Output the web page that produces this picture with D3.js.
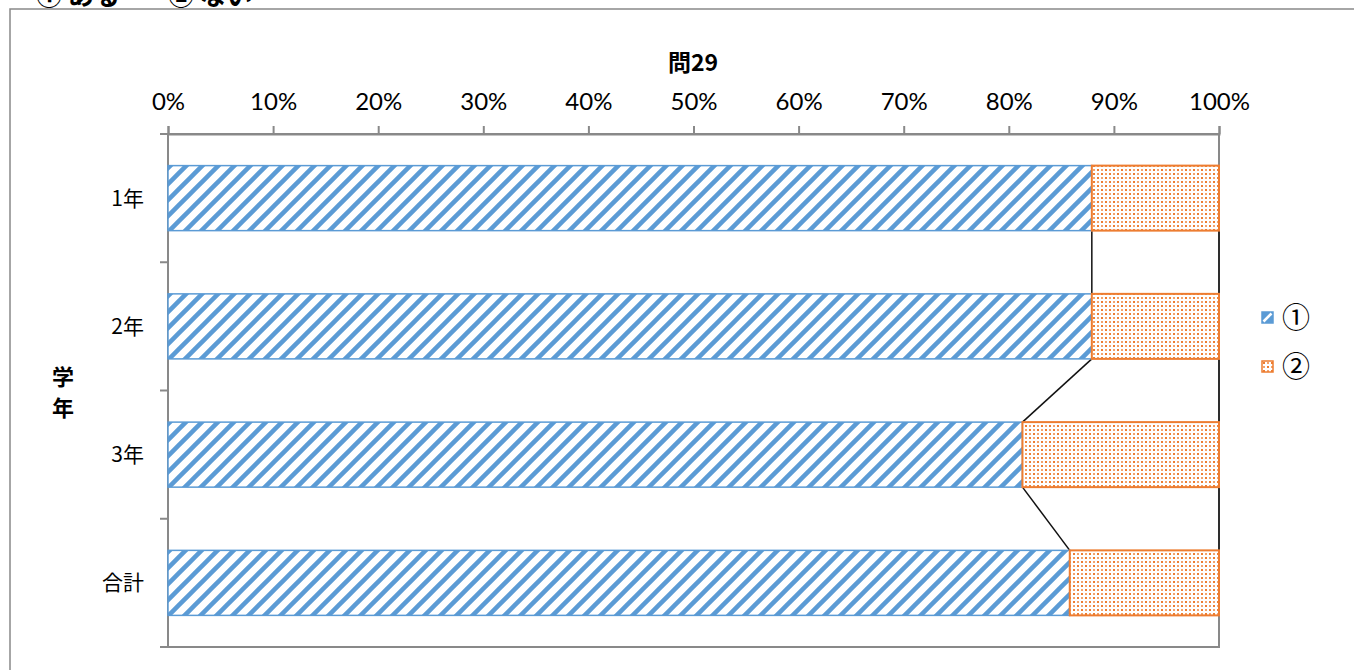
<!DOCTYPE html>
<html>
<head>
<meta charset="utf-8">
<title>問29</title>
<script src="https://cdn.jsdelivr.net/npm/d3@7"></script>
<style>
  body { margin: 0; background: #fff; }
  text { font-family: "Noto Sans CJK JP", sans-serif; fill: #000; }
  .num { font-family: "Lato", "Liberation Sans", sans-serif; }
</style>
</head>
<body>
<svg width="1354" height="670"></svg>
<script>
    // data
    const categories = ["1年", "2年", "3年", "合計"];
    const seriesNames = ["①", "②"];
    const aru = [87.9, 87.9, 81.3, 85.8];   // ① ある
    const nai = [12.1, 12.1, 18.7, 14.2];   // ② ない
    const tickValues = [0, 10, 20, 30, 40, 50, 60, 70, 80, 90, 100];

    const svg = d3.select("svg");
    const blue = "#5B9BD5", orange = "#ED7D31", grey = "#898989";

    // patterns
    const defs = svg.append("defs");
    const stripe = defs.append("pattern")
        .attr("id", "stripe")
        .attr("patternUnits", "userSpaceOnUse")
        .attr("width", 16).attr("height", 16);
    stripe.append("rect").attr("width", 16).attr("height", 16).attr("fill", "#fff");
    stripe.append("path")
        .attr("d", "M-4,4 L4,-4 M0,16 L16,0 M12,20 L20,12")
        .attr("stroke", blue).attr("stroke-width", 4.5);

    const dots = defs.append("pattern")
        .attr("id", "dots")
        .attr("patternUnits", "userSpaceOnUse")
        .attr("width", 8).attr("height", 8);
    dots.append("rect").attr("width", 8).attr("height", 8).attr("fill", "#fff");
    [[1, 1, 1], [5, 5, 1], [5, 1, 0.7], [1, 5, 0.7]].forEach(d => {
        dots.append("rect").attr("x", d[0]).attr("y", d[1])
            .attr("width", 2).attr("height", 2)
            .attr("fill", orange).attr("opacity", d[2]);
    });

    // outer chart border
    svg.append("rect")
        .attr("x", 10).attr("y", 9)
        .attr("width", 1400).attr("height", 700)
        .attr("fill", "none").attr("stroke", grey).attr("stroke-width", 1.5);

    // heading above the chart (cut off at the top, as in the original)
    svg.append("text").attr("x", 36).attr("y", 5)
        .attr("font-size", 26).attr("font-weight", "bold").text("① ある");
    svg.append("text").attr("x", 168).attr("y", 5)
        .attr("font-size", 26).attr("font-weight", "bold").text("② ない");

    // scales
    const x = d3.scaleLinear().domain([0, 100]).range([168, 1219]);
    const y = d3.scaleBand().domain(categories).range([134, 647])
        .paddingInner(0.493).paddingOuter(0.2465);

    // plot frame
    svg.append("rect")
        .attr("x", x(0)).attr("y", 134)
        .attr("width", x(100) - x(0)).attr("height", 513)
        .attr("fill", "none").attr("stroke", grey).attr("stroke-width", 2);

    // top axis
    const xAxis = svg.append("g")
        .attr("transform", "translate(0,134)")
        .call(d3.axisTop(x).tickValues(tickValues).tickFormat(d => d + "%").tickSize(8).tickPadding(16));
    xAxis.select(".domain").attr("stroke", grey).attr("stroke-width", 2);
    xAxis.selectAll(".tick line").attr("stroke", grey).attr("stroke-width", 2);
    xAxis.selectAll("text").attr("class", "num").attr("font-size", 24).attr("fill", "#000");

    // left category ticks (between categories)
    svg.selectAll(".ytick")
        .data(d3.range(categories.length + 1))
        .enter().append("line")
        .attr("x1", x(0) - 8).attr("x2", x(0))
        .attr("y1", i => 134 + i * y.step())
        .attr("y2", i => 134 + i * y.step())
        .attr("stroke", grey).attr("stroke-width", 2);

    svg.selectAll(".cat")
        .data(categories)
        .enter().append("text")
        .attr("x", 144)
        .attr("y", d => y(d) + y.bandwidth() / 2)
        .attr("dy", "0.36em")
        .attr("text-anchor", "end")
        .attr("font-size", 21)
        .text(d => d);

    // series connector lines
    function connectors(vals) {
        const segs = [];
        for (let i = 0; i < categories.length - 1; i++) {
            segs.push({
                x1: x(vals[i]), y1: y(categories[i]) + y.bandwidth(),
                x2: x(vals[i + 1]), y2: y(categories[i + 1])
            });
        }
        return segs;
    }
    const totals = categories.map((c, i) => aru[i] + nai[i]);
    [aru, totals].forEach(vals => {
        svg.append("g").selectAll("line")
            .data(connectors(vals))
            .enter().append("line")
            .attr("x1", d => d.x1).attr("y1", d => d.y1)
            .attr("x2", d => d.x2).attr("y2", d => d.y2)
            .attr("stroke", "#111").attr("stroke-width", 1.5);
    });

    // bars
    svg.selectAll(".bar1")
        .data(categories)
        .enter().append("rect")
        .attr("x", x(0))
        .attr("y", d => y(d))
        .attr("width", (d, i) => x(aru[i]) - x(0))
        .attr("height", y.bandwidth())
        .attr("fill", "url(#stripe)")
        .attr("stroke", blue).attr("stroke-width", 1.5);

    svg.selectAll(".bar2")
        .data(categories)
        .enter().append("rect")
        .attr("x", (d, i) => x(aru[i]))
        .attr("y", d => y(d))
        .attr("width", (d, i) => x(aru[i] + nai[i]) - x(aru[i]))
        .attr("height", y.bandwidth())
        .attr("fill", "url(#dots)")
        .attr("stroke", orange).attr("stroke-width", 2);

    // titles
    svg.append("text")
        .attr("x", 693).attr("y", 71)
        .attr("text-anchor", "middle")
        .attr("font-size", 23).attr("font-weight", "bold")
        .text("問29");

    svg.selectAll(".ytitle")
        .data(["学", "年"])
        .enter().append("text")
        .attr("x", 63)
        .attr("y", (d, i) => 377 + i * 31)
        .attr("dy", "0.36em")
        .attr("text-anchor", "middle")
        .attr("font-size", 22).attr("font-weight", "bold")
        .text(d => d);

    // legend
    const legend = svg.selectAll(".legend")
        .data(seriesNames)
        .enter().append("g")
        .attr("transform", (d, i) => `translate(1262,${312 + i * 49})`);
    legend.append("rect")
        .attr("width", 11).attr("height", 11)
        .attr("fill", (d, i) => i === 0 ? blue : "url(#dots)")
        .attr("stroke", (d, i) => i === 0 ? blue : orange).attr("stroke-width", 1.5);
    legend.filter((d, i) => i === 0).append("path")
        .attr("d", "M1.5,9.5 L9.5,1.5")
        .attr("stroke", "#fff").attr("stroke-width", 2.5);
    legend.append("text")
        .attr("x", 20).attr("y", 6)
        .attr("dy", "0.36em")
        .attr("font-size", 28)
        .text(d => d);
</script>
</body>
</html>
